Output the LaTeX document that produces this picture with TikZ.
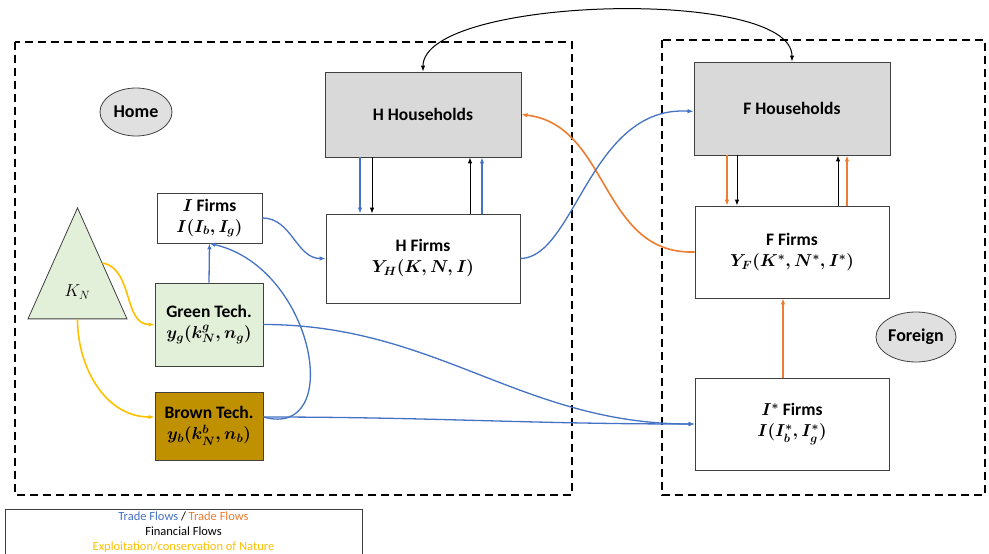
\documentclass[tikz,border=0pt]{standalone}
\usepackage{fontspec}
\setmainfont{Carlito}
\usetikzlibrary{arrows.meta,shapes.geometric}
\definecolor{tradeblue}{HTML}{4472C4}
\definecolor{tradeorange}{HTML}{ED7D31}
\definecolor{natureyellow}{HTML}{FFC000}
\definecolor{hhgray}{HTML}{D9D9D9}
\definecolor{greenfill}{HTML}{E2EFD9}
\definecolor{brownfill}{HTML}{BF9000}
\begin{document}
\begin{tikzpicture}[x=1pt,y=-1pt,
  box/.style = {draw=black!75, line width=0.8pt, fill=white, inner sep=0pt, align=center,
    font=\fontsize{17.5}{21}\selectfont\bfseries\boldmath},
  region/.style = {draw, line width=2.2pt, dash pattern=on 8pt off 5pt},
  blob/.style = {draw=black!75, line width=0.8pt, ellipse, fill=black!12, inner sep=0pt,
    font=\fontsize{18}{20}\selectfont\bfseries},
  tip/.style = {-{Latex[length=6pt,width=4.5pt]}},
  bflow/.style = {tip, draw=tradeblue, line width=1.3pt},
  oflow/.style = {tip, draw=tradeorange, line width=1.6pt},
  fflow/.style = {tip, draw=black, line width=1pt},
  nflow/.style = {tip, draw=natureyellow, line width=1.6pt}]
\useasboundingbox (0,0) rectangle (989,554);
% home and foreign
\draw[region] (15,42) rectangle (572,495);
\draw[region] (662,40) rectangle (985,495);
\node[blob, minimum width=72pt, minimum height=48pt] (10) at (136,112) {Home};
\node[blob, minimum width=80pt, minimum height=50pt] (11) at (916,337) {Foreign};
% nodes
\node[draw=black!75, line width=0.8pt, fill=greenfill, isosceles triangle, shape border rotate=90,
  isosceles triangle stretches, minimum width=99pt, minimum height=111pt, inner sep=0pt,
  font=\fontsize{18}{20}\selectfont] (1) at (77.5,292) {$K_N$};
\node[box, minimum width=105pt, minimum height=50pt] (2) at (209.5,218) {$I$ Firms\\$I(I_b,I_g)$};
\node[box, fill=greenfill, minimum width=108pt, minimum height=83pt] (3) at (209,324.5) {Green Tech.\\$y_g(k_N^g,n_g)$};
\node[box, fill=brownfill, minimum width=108pt, minimum height=68pt] (4) at (209,426) {Brown Tech.\\$y_b(k_N^b,n_b)$};
\node[box, fill=hhgray, minimum width=196pt, minimum height=85pt] (5) at (423,114.5) {H Households};
\node[box, minimum width=194pt, minimum height=89pt] (6) at (423,258.5) {H Firms\\$Y_H(K,N,I)$};
\node[box, fill=hhgray, minimum width=196pt, minimum height=93pt] (7) at (792,108.5) {F Households};
\node[box, minimum width=194pt, minimum height=92pt] (8) at (792,252) {F Firms\\$Y_F(K^*,N^*,I^*)$};
\node[box, minimum width=194pt, minimum height=92pt] (9) at (792,424) {$I^*$ Firms\\$I(I_b^*,I_g^*)$};
% legend
\node[draw=black!75, line width=0.8pt, minimum width=357pt, minimum height=46pt, inner sep=0pt, align=center,
  font=\fontsize{12.5}{15}\selectfont] (12) at (183.5,532)
  {\textcolor{tradeblue}{Trade Flows} / \textcolor{tradeorange}{Trade Flows}\\
   Financial Flows\\
   \textcolor{natureyellow}{Exploitation/conservation of Nature}};
% flows
\draw[fflow, {Latex[length=6pt,width=4.5pt]}-{Latex[length=6pt,width=4.5pt]}]
  (5.north) to[out=90,in=90,looseness=0.52] (7.north);
\draw[bflow] ([xshift=-63pt]5.south) -- ([xshift=-63pt]6.north);
\draw[fflow] ([xshift=-51pt]5.south) -- ([xshift=-51pt]6.north);
\draw[fflow] ([xshift=47pt]6.north) -- ([xshift=47pt]5.south);
\draw[bflow] ([xshift=59pt]6.north) -- ([xshift=59pt]5.south);
\draw[oflow] ([xshift=-65pt]7.south) -- ([xshift=-65pt]8.north);
\draw[fflow] ([xshift=-55pt]7.south) -- ([xshift=-55pt]8.north);
\draw[fflow] ([xshift=46pt]8.north) -- ([xshift=46pt]7.south);
\draw[oflow] ([xshift=55pt]8.north) -- ([xshift=55pt]7.south);
\draw[oflow] ([xshift=-9pt]9.north) -- ([xshift=-9pt]8.south);
\draw[oflow] (8.west) .. controls (600,255) and (610,125) .. (5.east);
\draw[bflow] (6.east) .. controls (575,258) and (590,105) .. ([yshift=-3pt]7.west);
\draw[bflow] (2.east) to[out=0,in=180] (6.west);
\draw[bflow] (3.north) -- (2.south);
\draw[bflow] ([yshift=9pt]4.east) .. controls (345,440) and (315,268) .. (2.south);
\draw[bflow] (3.east) to[out=0,in=180] (9.west);
\draw[bflow] ([yshift=9pt]4.east) to[out=0,in=180] (9.west);
\draw[nflow] (1.right side) to[out=-10,in=180] (3.west);
\draw[nflow] (1.lower side) to[out=-90,in=180] ([yshift=9pt]4.west);
\end{tikzpicture}
\end{document}
